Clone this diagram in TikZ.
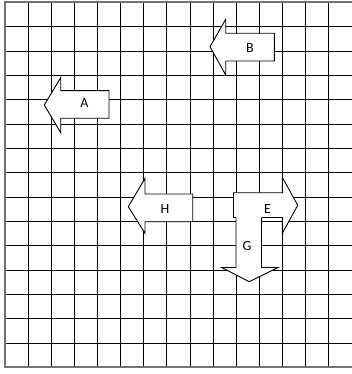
\documentclass[tikz,border=0pt]{standalone}
\usepackage{fontspec}
\setmainfont{Carlito}
\begin{document}
\begin{tikzpicture}[x=1pt,y=-1pt,
  gridline/.style={black,line width=1.6pt},
  border/.style={black!55,line width=2pt},
  arrowshape/.style={draw=black,fill=white,line width=0.9pt,line join=miter},
  lab/.style={font=\fontsize{14}{14}\selectfont,inner sep=0pt}]
\useasboundingbox (0,0) rectangle (351,374);
\foreach \i in {1,...,14} \draw[gridline] ({floor(5+23.133*\i)+0.5},2.5) -- ({floor(5+23.133*\i)+0.5},367);
\foreach \j in {1,...,14} \draw[gridline] (5,{floor(2.5+24.33*\j)+0.5}) -- (352,{floor(2.5+24.33*\j)+0.5});
\draw[border] (352,2.5) -- (5,2.5) -- (5,367) -- (352,367);
% A
\draw[arrowshape] (44.3,105) -- (60.7,77.7) -- (60.7,90.7) -- (109,90.7) -- (109,118.3) -- (60.7,118.3) -- (60.7,132.7) -- cycle;
% B
\draw[arrowshape] (210,46.7) -- (225.7,19.3) -- (225.7,33.3) -- (274.3,33.3) -- (274.3,61) -- (225.7,61) -- (225.7,75) -- cycle;
% H
\draw[arrowshape] (128.3,206.7) -- (145,178.3) -- (145,194) -- (192.7,194) -- (192.7,221.7) -- (145,221.7) -- (145,233.3) -- cycle;
% E
\draw[arrowshape] (297.7,205.3) -- (282.3,177.3) -- (282.3,192.7) -- (233.5,192.7) -- (233.5,217.5) -- (282.3,217.5) -- (282.3,233.3) -- cycle;
% G
\fill[white] (236,216.9) -- (236,267.5) -- (221.7,267.5) -- (249.2,281.7) -- (278,267.5) -- (261.5,267.5) -- (261.5,216.9) -- cycle;
\draw[arrowshape,fill=none] (236,217.5) -- (236,267.5) -- (221.7,267.5) -- (249.2,281.7) -- (278,267.5) -- (261.5,267.5) -- (261.5,217.5);
\node[lab] (la) at (84.5,103.2) {A};
\node[lab] (lb) at (250,48.5) {B};
\node[lab] (lh) at (165,209) {H};
\node[lab] (le) at (267.5,209) {E};
\node[lab] (lg) at (247,246.5) {G};
\end{tikzpicture}
\end{document}
